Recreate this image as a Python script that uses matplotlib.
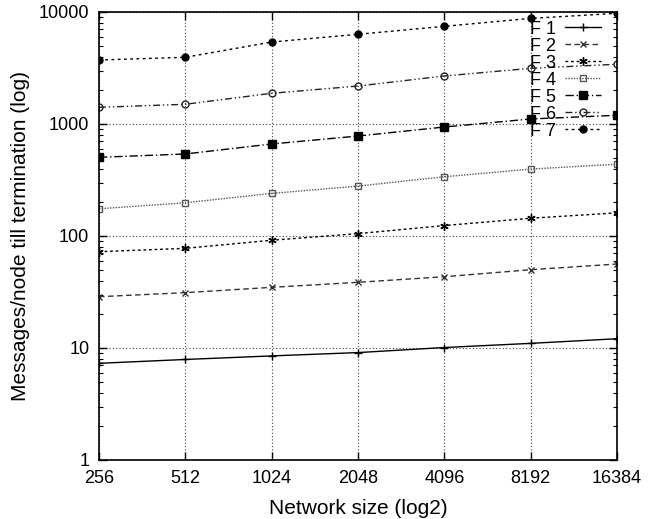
import numpy as np
import matplotlib
matplotlib.use('Agg')
from matplotlib import pyplot as plt
from matplotlib.ticker import LogLocator, NullFormatter, FixedLocator

plt.rcParams['font.family'] = ['Liberation Sans', 'DejaVu Sans']

sizes = [256, 512, 1024, 2048, 4096, 8192, 16384]
size_labels = ['256', '512', '1024', '2048', '4096', '8192', '16384']

f1 = [7.3, 7.9, 8.5, 9.1, 10.1, 11.0, 12.1]
f2 = [28.7, 31.2, 34.8, 38.6, 43.3, 50, 56.2]
f3 = [72.4, 77.6, 91.6, 105, 124, 144, 161]
f4 = [175, 198, 240, 279, 338, 396, 437]
f5 = [504, 540, 663, 781, 940, 1109, 1196]
f6 = [1409, 1500, 1880, 2183, 2683, 3143, 3415]
f7 = [3728, 3940, 5395, 6323, 7450, 8770, 9730]

series = [
    ('F 1', f1, dict(color='black', ls='-', marker='+', ms=6, mfc='black')),
    ('F 2', f2, dict(color='#333333', ls=(0, (4, 2.5)), marker='x', ms=5, mfc='none')),
    ('F 3', f3, dict(color='black', ls=(0, (2, 2)), marker=(6, 2, 0), ms=6, mfc='none')),
    ('F 4', f4, dict(color='#555555', ls=(0, (1, 1)), marker='s', ms=5, mfc='none')),
    ('F 5', f5, dict(color='black', ls=(0, (6, 2, 1, 2)), marker='s', ms=6, mfc='black')),
    ('F 6', f6, dict(color='#222222', ls=(0, (5, 2, 1, 2, 1, 2)), marker='o', ms=5, mfc='none')),
    ('F 7', f7, dict(color='black', ls=(0, (2, 2.5)), marker='o', ms=5, mfc='black')),
]

fig = plt.figure(figsize=(6.58, 5.19), dpi=100)
ax = fig.add_axes([99 / 658, 59 / 519, (617 - 99) / 658, (460 - 12) / 519])

for name, vals, st in series:
    ax.plot(sizes, vals, label=name, lw=1.0, mew=1.0, mec=st['color'], **st)

ax.set_xscale('log', base=2)
ax.set_yscale('log')
ax.set_xlim(256, 16384)
ax.set_ylim(1, 10000)
ax.xaxis.set_major_locator(FixedLocator(sizes))
ax.set_xticklabels(size_labels)
ax.xaxis.set_minor_locator(FixedLocator([]))
ax.set_yticks([1, 10, 100, 1000, 10000])
ax.set_yticklabels(['1', '10', '100', '1000', '10000'])
ax.yaxis.set_minor_locator(LogLocator(base=10, subs=np.arange(2, 10)))
ax.yaxis.set_minor_formatter(NullFormatter())

ax.tick_params(which='both', direction='in', top=True, right=True, labelsize=13)
ax.tick_params(axis='x', which='major', pad=7)
ax.tick_params(axis='y', which='major', pad=7)
ax.tick_params(which='major', length=6, width=1)
ax.tick_params(which='minor', length=3, width=0.8)
for sp in ax.spines.values():
    sp.set_linewidth(1.2)

ax.grid(True, which='major', ls=(0, (1, 2)), color='#444444', lw=0.8)

ax.set_xlabel('Network size (log2)', fontsize=15, labelpad=9)
ax.set_ylabel('Messages/node till termination (log)', fontsize=15, labelpad=6)

leg = ax.legend(loc='upper right', frameon=False, markerfirst=False, fontsize=13,
                handlelength=2.0, handletextpad=0.5, labelspacing=0.0,
                borderaxespad=0.2, bbox_to_anchor=(0.99, 1.005))

fig.savefig('out.png', dpi=100)
